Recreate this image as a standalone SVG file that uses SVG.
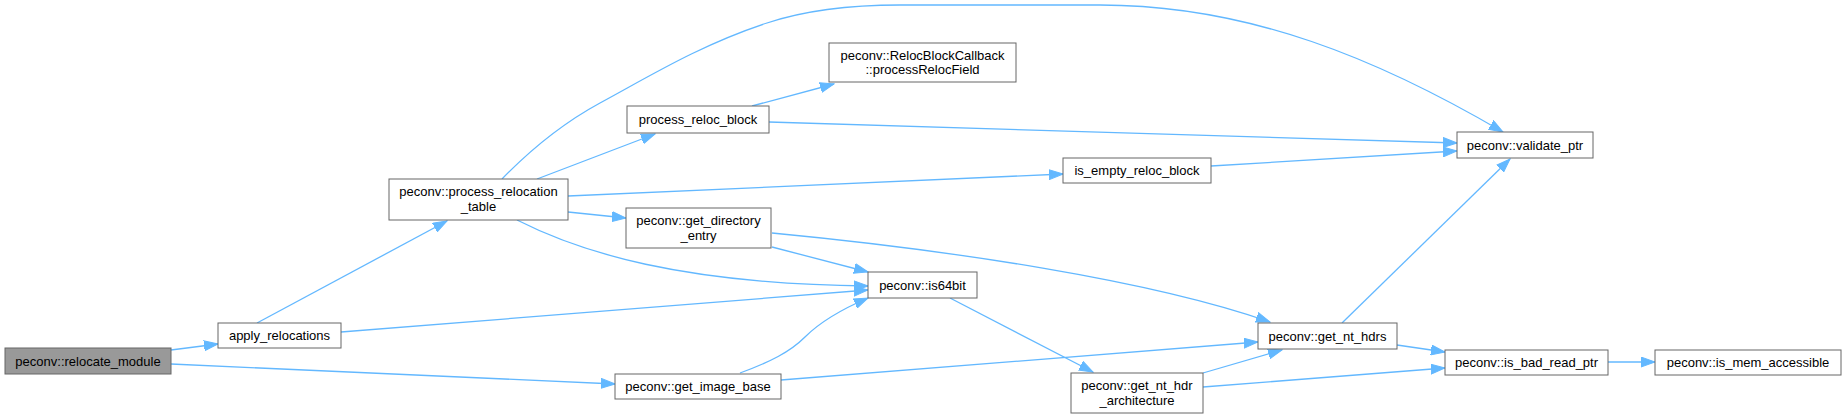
<svg xmlns="http://www.w3.org/2000/svg" width="1847" height="419" viewBox="0 0 1847 419">
<style>
.node rect{fill:#ffffff;stroke:#666666;stroke-width:1}
.node.root rect{fill:#999999}
.node text{font-family:"Liberation Sans",Arial,sans-serif;font-size:13px;fill:#000000;text-anchor:middle}
.edges path{fill:none;stroke:#63b8ff;stroke-width:1.3}
</style>
<defs>
<marker id="arr" markerUnits="userSpaceOnUse" markerWidth="15" markerHeight="11" refX="14" refY="5.5" orient="auto">
<path d="M0,0.5 L14,5.5 L0,10.5 z" fill="#63b8ff" stroke="#63b8ff" stroke-width="1"/>
</marker>
</defs>
<rect width="1847" height="419" fill="#ffffff"/>
<g class="edges" marker-end="url(#arr)">
<path d="M171,350 L218,344" marker-end="url(#arr)"/>
<path d="M171,364 L615,384" marker-end="url(#arr)"/>
<path d="M257,323 L447,221" marker-end="url(#arr)"/>
<path d="M341,332 L868,290" marker-end="url(#arr)"/>
<path d="M502,179 C535,145 565,122 600,103 C650,76 700,45 767,23 C800,12 840,5 900,5 L1100,5 C1250,5 1380,60 1503,132" marker-end="url(#arr)"/>
<path d="M537,179 L655,134" marker-end="url(#arr)"/>
<path d="M568,196 L1063,174" marker-end="url(#arr)"/>
<path d="M568,212 L626,218" marker-end="url(#arr)"/>
<path d="M517,220 C580,252 680,284 868,286" marker-end="url(#arr)"/>
<path d="M752,106 L834,84" marker-end="url(#arr)"/>
<path d="M769,122 L1457,143" marker-end="url(#arr)"/>
<path d="M1211,166 L1457,151" marker-end="url(#arr)"/>
<path d="M772,247 L868,272" marker-end="url(#arr)"/>
<path d="M772,233 C950,250 1150,280 1270,322" marker-end="url(#arr)"/>
<path d="M740,373 C770,362 790,352 805,337 C820,322 840,310 868,298" marker-end="url(#arr)"/>
<path d="M781,380 L1258,342" marker-end="url(#arr)"/>
<path d="M950,298 L1093,372" marker-end="url(#arr)"/>
<path d="M1203,373 L1282,350" marker-end="url(#arr)"/>
<path d="M1203,387 L1445,368" marker-end="url(#arr)"/>
<path d="M1342,323 L1510,159" marker-end="url(#arr)"/>
<path d="M1397,345 L1445,352" marker-end="url(#arr)"/>
<path d="M1608,362 L1655,362" marker-end="url(#arr)"/>
</g>
<g id="node_relocate_module" class="node root"><rect x="5" y="348" width="166" height="26"/><text x="88" y="365.5">peconv::relocate_module</text></g>
<g id="node_apply_relocations" class="node"><rect x="218" y="323" width="123" height="25"/><text x="279.5" y="340">apply_relocations</text></g>
<g id="node_process_relocation_table" class="node"><rect x="389" y="179" width="179" height="41"/><text x="478.5" y="196">peconv::process_relocation</text><text x="478.5" y="211">_table</text></g>
<g id="node_process_reloc_block" class="node"><rect x="627" y="106" width="142" height="27"/><text x="698" y="124">process_reloc_block</text></g>
<g id="node_get_directory_entry" class="node"><rect x="626" y="208" width="145" height="40"/><text x="698.5" y="224.5">peconv::get_directory</text><text x="698.5" y="239.5">_entry</text></g>
<g id="node_processRelocField" class="node"><rect x="829" y="43" width="187" height="39"/><text x="922.5" y="59.5">peconv::RelocBlockCallback</text><text x="922.5" y="74">::processRelocField</text></g>
<g id="node_is64bit" class="node"><rect x="868" y="272" width="109" height="26"/><text x="922.5" y="289.5">peconv::is64bit</text></g>
<g id="node_get_image_base" class="node"><rect x="615" y="374" width="166" height="25"/><text x="698" y="391">peconv::get_image_base</text></g>
<g id="node_is_empty_reloc_block" class="node"><rect x="1063" y="158" width="148" height="25"/><text x="1137" y="175">is_empty_reloc_block</text></g>
<g id="node_validate_ptr" class="node"><rect x="1457" y="132" width="136" height="26"/><text x="1525" y="149.5">peconv::validate_ptr</text></g>
<g id="node_get_nt_hdrs" class="node"><rect x="1258" y="323" width="139" height="26"/><text x="1327.5" y="340.5">peconv::get_nt_hdrs</text></g>
<g id="node_get_nt_hdr_architecture" class="node"><rect x="1071" y="373" width="132" height="40"/><text x="1137" y="390">peconv::get_nt_hdr</text><text x="1137" y="404.5">_architecture</text></g>
<g id="node_is_bad_read_ptr" class="node"><rect x="1445" y="350" width="163" height="25"/><text x="1526.5" y="367">peconv::is_bad_read_ptr</text></g>
<g id="node_is_mem_accessible" class="node"><rect x="1655" y="350" width="186" height="25"/><text x="1748" y="367">peconv::is_mem_accessible</text></g>
</svg>
